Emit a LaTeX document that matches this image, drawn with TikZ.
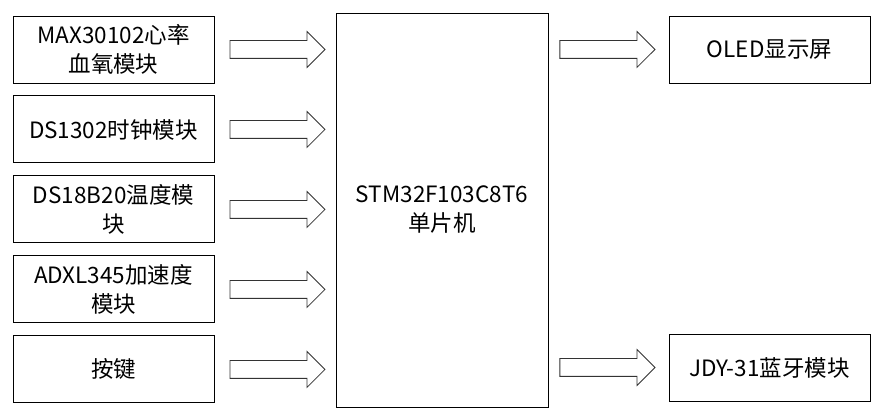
\documentclass[tikz,border=0pt]{standalone}
\usepackage{fontspec}
\setmainfont{Noto Sans CJK SC}
\usepackage{tikz}
\usetikzlibrary{shapes,arrows.meta,positioning}

\begin{document}
\begin{tikzpicture}[
    module/.style={rectangle, draw, line width=0.7pt, minimum width=5.025cm, minimum height=1.675cm, align=center, font=\fontsize{16}{20.6}\selectfont},
    mcu_box/.style={rectangle, draw, line width=0.7pt, minimum width=5.3cm, minimum height=9.85cm, align=center, font=\fontsize{16}{20.6}\selectfont},
    flow/.style={single arrow, draw=black!80, line width=0.6pt, fill=white, inner sep=0.2125cm, minimum height=2.375cm, single arrow head extend=0.225cm}
]
\useasboundingbox (0,0) rectangle (22.3,10.425);
% Nodes
\node[module] (max) at (2.8375, 9.1875) {MAX30102心率\\血氧模块};
\node[module, below=0.3cm of max] (ds1302) {DS1302时钟模块};
\node[module, below=0.3cm of ds1302] (ds18b20) {DS18B20温度模\\块};
\node[module, below=0.3cm of ds18b20] (adxl) {ADXL345加速度\\模块};
\node[module, below=0.3cm of adxl] (key) {按键};
\node[mcu_box] (mcu) at (11.05, 5.175) {STM32F103C8T6\\单片机};
\node[module] (oled) at (19.2375, 9.1875) {OLED显示屏};
\node[module] (jdy) at (19.2375, 1.2375) {JDY-31蓝牙模块};

% Arrows
\node[flow, right=0.375cm of max] (a_max) {};
\node[flow, right=0.375cm of ds1302] (a_ds1302) {};
\node[flow, right=0.375cm of ds18b20] (a_ds18b20) {};
\node[flow, right=0.375cm of adxl] (a_adxl) {};
\node[flow, right=0.375cm of key] (a_key) {};
\node[flow, left=0.325cm of oled] (a_oled) {};
\node[flow, left=0.325cm of jdy] (a_jdy) {};
\end{tikzpicture}
\end{document}
